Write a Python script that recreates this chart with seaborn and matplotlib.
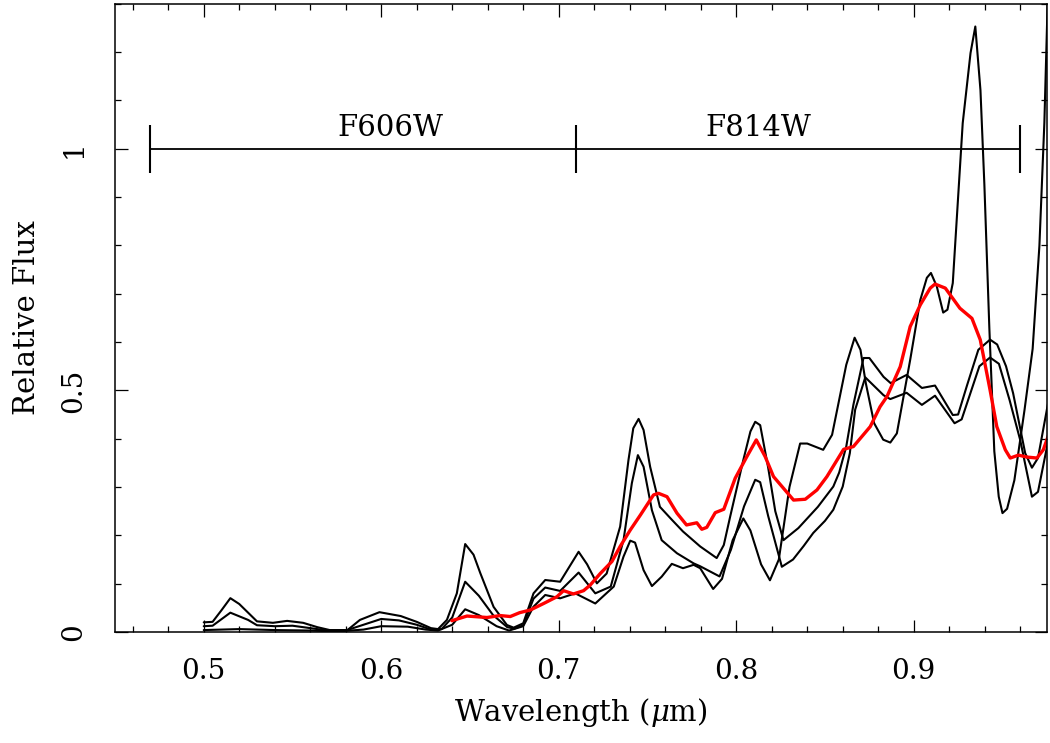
import pandas as pd
import seaborn as sns
import matplotlib.pyplot as plt
from matplotlib.ticker import MultipleLocator

# spectrum with the strongest bands (top in the blue)
wave_b = [0.500, 0.505, 0.510, 0.515, 0.520, 0.525, 0.530, 0.539, 0.547, 0.556, 0.564, 0.571,
          0.581, 0.588, 0.599, 0.611, 0.620, 0.628, 0.632, 0.637, 0.6426, 0.6473, 0.652, 0.6558,
          0.6633, 0.6708, 0.6746, 0.680, 0.6858, 0.6924, 0.7008, 0.706, 0.7112, 0.716, 0.7215,
          0.727, 0.7346, 0.7393, 0.742, 0.745, 0.7478, 0.7515, 0.757, 0.7638, 0.770, 0.7797,
          0.789, 0.793, 0.7966, 0.804, 0.808, 0.8107, 0.8135, 0.818, 0.822, 0.8266, 0.835,
          0.840, 0.846, 0.8547, 0.858, 0.862, 0.866, 0.8717, 0.875, 0.883, 0.887, 0.896,
          0.9046, 0.912, 0.922, 0.925, 0.930, 0.9364, 0.943, 0.947, 0.952, 0.956, 0.9628,
          0.9666, 0.970, 0.976]
flux_b = [0.020, 0.021, 0.045, 0.070, 0.058, 0.040, 0.022, 0.019, 0.023, 0.019, 0.010, 0.004,
          0.004, 0.025, 0.041, 0.033, 0.021, 0.008, 0.006, 0.025, 0.080, 0.182, 0.160, 0.122,
          0.052, 0.0145, 0.009, 0.018, 0.080, 0.1076, 0.104, 0.135, 0.166, 0.140, 0.1007,
          0.121, 0.218, 0.356, 0.4216, 0.441, 0.418, 0.342, 0.259, 0.232, 0.208, 0.177,
          0.153, 0.180, 0.239, 0.356, 0.415, 0.435, 0.428, 0.340, 0.250, 0.190, 0.215,
          0.235, 0.259, 0.301, 0.330, 0.384, 0.470, 0.567, 0.567, 0.528, 0.515, 0.532,
          0.505, 0.510, 0.449, 0.450, 0.510, 0.584, 0.605, 0.595, 0.550, 0.494, 0.370,
          0.340, 0.360, 0.480]

# middle spectrum
wave_c = [0.500, 0.505, 0.515, 0.525, 0.530, 0.540, 0.550, 0.560, 0.570, 0.580, 0.590, 0.600,
          0.610, 0.620, 0.628, 0.634, 0.640, 0.6473, 0.655, 0.663, 0.671, 0.675, 0.680, 0.6858,
          0.6924, 0.7008, 0.7112, 0.7206, 0.7293, 0.7365, 0.7412, 0.7446, 0.7478, 0.7525,
          0.758, 0.7666, 0.776, 0.7797, 0.7906, 0.797, 0.8044, 0.8107, 0.8135, 0.818, 0.8257,
          0.832, 0.838, 0.8434, 0.850, 0.8547, 0.860, 0.864, 0.867, 0.8727, 0.883, 0.8868,
          0.896, 0.9046, 0.912, 0.923, 0.927, 0.937, 0.943, 0.948, 0.954, 0.960, 0.9666,
          0.970, 0.976]
flux_c = [0.012, 0.013, 0.040, 0.025, 0.014, 0.012, 0.013, 0.008, 0.003, 0.003, 0.015, 0.027,
          0.024, 0.015, 0.005, 0.006, 0.030, 0.104, 0.075, 0.035, 0.010, 0.007, 0.014, 0.069,
          0.092, 0.085, 0.123, 0.080, 0.094, 0.190, 0.308, 0.366, 0.342, 0.252,
          0.190, 0.163, 0.142, 0.136, 0.115, 0.170, 0.260, 0.315, 0.310, 0.240, 0.135,
          0.150, 0.178, 0.205, 0.230, 0.253, 0.301, 0.370, 0.460, 0.527, 0.490, 0.482,
          0.495, 0.470, 0.489, 0.432, 0.440, 0.550, 0.568, 0.555, 0.480, 0.397, 0.280,
          0.290, 0.400]

# spiky spectrum (flat in the blue)
wave_a = [0.500, 0.520, 0.540, 0.560, 0.575, 0.590, 0.600, 0.615, 0.625, 0.632, 0.640, 0.6473,
          0.655, 0.665, 0.672, 0.680, 0.6857, 0.6924, 0.7008, 0.7093, 0.7206, 0.731, 0.7365,
          0.7403, 0.743, 0.7478, 0.7525, 0.758, 0.7637, 0.770, 0.776, 0.7797, 0.787, 0.792,
          0.798, 0.804, 0.808, 0.814, 0.819, 0.824, 0.830, 0.836, 0.840, 0.849, 0.854, 0.862,
          0.8667, 0.870, 0.873, 0.8777, 0.8828, 0.8868, 0.8905, 0.898, 0.9037, 0.9074, 0.9097,
          0.913, 0.9166, 0.919, 0.922, 0.9276, 0.932, 0.9347, 0.9376, 0.9398, 0.9426, 0.9454,
          0.9479, 0.950, 0.9526, 0.9567, 0.9624, 0.967, 0.9708, 0.9736, 0.9755, 0.978]
flux_a = [0.004, 0.006, 0.004, 0.003, 0.001, 0.005, 0.012, 0.011, 0.005, 0.003, 0.015, 0.047,
          0.035, 0.012, 0.003, 0.012, 0.052, 0.0766, 0.0697, 0.080, 0.059, 0.094, 0.156,
          0.189, 0.185, 0.128, 0.095, 0.1145, 0.141, 0.132, 0.139, 0.132, 0.089, 0.110,
          0.190, 0.235, 0.210, 0.140, 0.107, 0.150, 0.300, 0.390, 0.390, 0.377, 0.408, 0.553,
          0.609, 0.584, 0.515, 0.432, 0.398, 0.392, 0.411, 0.563, 0.687, 0.733, 0.743,
          0.715, 0.661, 0.667, 0.722, 1.053, 1.198, 1.253, 1.121, 0.926, 0.629, 0.374,
          0.280, 0.246, 0.255, 0.314, 0.459, 0.586, 0.799, 1.054, 1.310, 1.500]

# observed spectrum (red)
wave_obs = [0.6398, 0.6483, 0.6596, 0.667, 0.6727, 0.678, 0.684, 0.6915, 0.699, 0.7027, 0.7083,
            0.714, 0.7177, 0.7234, 0.730, 0.7346, 0.7403, 0.746, 0.7515, 0.7534, 0.7562, 0.761,
            0.7666, 0.772, 0.7778, 0.7806, 0.7834, 0.7882, 0.793, 0.7994, 0.806, 0.8113, 0.8163,
            0.821, 0.8323, 0.8389, 0.8455, 0.8511, 0.8605, 0.866, 0.8755, 0.881, 0.8849, 0.8924,
            0.898, 0.9037, 0.9093, 0.912, 0.9178, 0.926, 0.9328, 0.9375, 0.943, 0.9468, 0.9516,
            0.9544, 0.959, 0.9638, 0.9694, 0.973, 0.977]
flux_obs = [0.0234, 0.033, 0.030, 0.034, 0.032, 0.040, 0.0455, 0.059, 0.073, 0.0855, 0.0787,
            0.0855, 0.097, 0.121, 0.146, 0.177, 0.211, 0.242, 0.273, 0.2836, 0.287, 0.280,
            0.246, 0.2215, 0.226, 0.2126, 0.2165, 0.247, 0.254, 0.318, 0.363, 0.3975, 0.363,
            0.3216, 0.273, 0.2747, 0.294, 0.3216, 0.378, 0.3837, 0.425, 0.466, 0.487, 0.549,
            0.632, 0.677, 0.7116, 0.720, 0.7116, 0.670, 0.649, 0.6045, 0.501, 0.425, 0.377,
            0.360, 0.366, 0.362, 0.360, 0.377, 0.418]

# filter bandpasses
filter_names = ['F606W', 'F814W']
filter_lo = [0.47, 0.71]
filter_hi = [0.71, 0.96]
filter_label_x = [0.605, 0.8125]
filter_level = 1.0

sns.set_theme(style='ticks')
plt.rcParams['font.family'] = ['DejaVu Serif']
plt.rcParams['mathtext.fontset'] = 'dejavuserif'
plt.rcParams['text.color'] = 'black'
plt.rcParams['axes.labelcolor'] = 'black'

fig = plt.figure(figsize=(10.5, 7.43), dpi=100)
ax = fig.add_axes([0.1095, 0.1494, 0.8875, 0.8455])

for w, f in [(wave_b, flux_b), (wave_c, flux_c), (wave_a, flux_a)]:
    df = pd.DataFrame({'wave': w, 'flux': f})
    sns.lineplot(data=df, x='wave', y='flux', color='black', linewidth=1.5,
                 estimator=None, ax=ax)

obs = pd.DataFrame({'wave': wave_obs, 'flux': flux_obs})
sns.lineplot(data=obs, x='wave', y='flux', color='#ff0000', linewidth=2.4,
             estimator=None, ax=ax)

# filter bars with end caps
ax.hlines(filter_level, filter_lo[0], filter_hi[-1], color='black', linewidth=1.3)
caps = sorted(set(filter_lo + filter_hi))
ax.vlines(caps, filter_level - 0.05, filter_level + 0.05, color='black', linewidth=1.5)
for name, xl in zip(filter_names, filter_label_x):
    ax.text(xl, filter_level + 0.015, name, ha='center', va='bottom', fontsize=21, color='black')

ax.set_xlim(0.45, 0.975)
ax.set_ylim(0, 1.3)
ax.xaxis.set_major_locator(MultipleLocator(0.1))
ax.xaxis.set_minor_locator(MultipleLocator(0.02))
ax.yaxis.set_major_locator(MultipleLocator(0.5))
ax.yaxis.set_minor_locator(MultipleLocator(0.1))
ax.set_yticks([0, 0.5, 1])
ax.set_yticklabels(['0', '0.5', '1'])

ax.tick_params(which='both', direction='in', top=True, right=True, colors='black', width=0.9)
ax.tick_params(which='major', length=9)
ax.tick_params(which='minor', length=4.5)
ax.tick_params(axis='x', labelsize=20, pad=19)
ax.tick_params(axis='y', labelsize=20, pad=20, labelrotation=90)
for lab in ax.get_yticklabels():
    lab.set_va('center')

for sp in ax.spines.values():
    sp.set_linewidth(1.1)
    sp.set_color('black')

ax.set_xlabel(r'Wavelength ($\mu$m)', fontsize=21, labelpad=8)
ax.set_ylabel('Relative Flux', fontsize=21, labelpad=14)

fig.savefig('out.png', dpi=100)
